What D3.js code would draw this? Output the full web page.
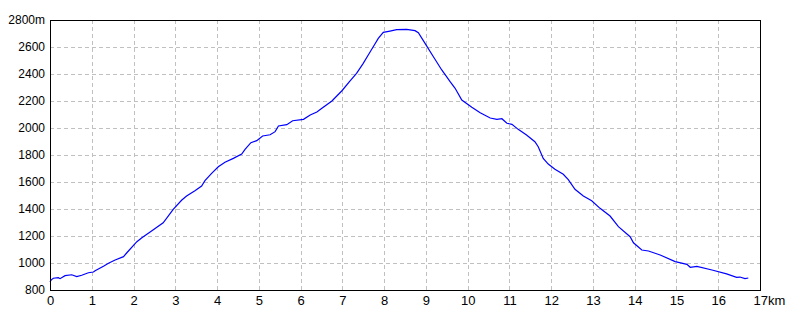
<!DOCTYPE html>
<html>
<head>
<meta charset="utf-8">
<script src="https://cdn.jsdelivr.net/npm/d3@7"></script>
<style>
  body { margin: 0; background: #fff; }
  svg { display: block; }
  .tick text { font-family: "Liberation Sans", Arial, sans-serif; fill: #000; }
</style>
</head>
<body>
<div id="chart"></div>
<script>
// distance along the route (km) and elevation (m)
var distKm = [
    0, 0.03, 0.08, 0.2, 0.24, 0.36, 0.52, 0.64, 0.76, 0.92,
    1.04, 1.08, 1.28, 1.4, 1.56, 1.76, 1.84, 2.08, 2.2, 2.44,
    2.71, 2.95, 3.15, 3.27, 3.47, 3.63, 3.71, 3.87, 4.03, 4.19,
    4.39, 4.59, 4.67, 4.81, 4.95, 5.09, 5.27, 5.39, 5.47, 5.67,
    5.81, 6.07, 6.23, 6.39, 6.51, 6.75, 6.99, 7.18, 7.34, 7.5,
    7.62, 7.74, 7.86, 7.98, 8.14, 8.3, 8.54, 8.74, 8.82, 8.98,
    9.18, 9.38, 9.58, 9.7, 9.86, 10.1, 10.3, 10.54, 10.7, 10.82,
    10.94, 11.06, 11.21, 11.41, 11.61, 11.69, 11.81, 11.93, 12.09, 12.29,
    12.41, 12.57, 12.77, 12.97, 13.17, 13.41, 13.61, 13.89, 13.97, 14.17,
    14.33, 14.61, 14.97, 15.25, 15.33, 15.49, 15.85, 16.2, 16.44, 16.52,
    16.64, 16.72
];
var elevM = [
    860, 875, 887, 891, 884, 906, 913, 899, 909, 928,
    933, 943, 976, 998, 1022, 1047, 1076, 1158, 1187, 1239,
    1298, 1398, 1465, 1496, 1536, 1570, 1610, 1664, 1713, 1746,
    1775, 1807, 1842, 1891, 1906, 1941, 1950, 1973, 2015, 2025,
    2054, 2064, 2096, 2118, 2146, 2200, 2276, 2348, 2405, 2479,
    2541, 2602, 2664, 2709, 2718, 2728, 2731, 2721, 2706, 2627,
    2528, 2430, 2343, 2294, 2207, 2153, 2113, 2074, 2064, 2069,
    2035, 2027, 1990, 1948, 1898, 1861, 1775, 1733, 1694, 1657,
    1618, 1546, 1496, 1461, 1405, 1348, 1269, 1195, 1150, 1096,
    1089, 1059, 1010, 990, 968, 975, 948, 919, 894, 896,
    884, 889
];
var xTicks = [0, 1, 2, 3, 4, 5, 6, 7, 8, 9, 10, 11, 12, 13, 14, 15, 16, 17];
var yTicks = [800, 1000, 1200, 1400, 1600, 1800, 2000, 2200, 2400, 2600, 2800];

var width = 800, height = 320;
var margin = {top: 20, right: 40, bottom: 30, left: 50};
var plotW = width - margin.left - margin.right;   // 710
var plotH = height - margin.top - margin.bottom;  // 270

var svg = d3.select('#chart').append('svg')
    .attr('width', width)
    .attr('height', height);

var g = svg.append('g')
    .attr('transform', 'translate(' + margin.left + ',' + margin.top + ')');

var xs = d3.scaleLinear().domain([0, 17]).range([0, plotW]);
var ys = d3.scaleLinear().domain([800, 2800]).range([plotH, 0]);

// dashed grid
g.append('g').selectAll('line')
    .data(xTicks.slice(1, -1))
    .enter().append('line')
    .attr('x1', function (d) { return Math.round(xs(d)) + 0.5; })
    .attr('x2', function (d) { return Math.round(xs(d)) + 0.5; })
    .attr('y1', 0)
    .attr('y2', plotH)
    .attr('stroke', '#c0c0c0')
    .attr('stroke-dasharray', '4,3')
    .attr('shape-rendering', 'crispEdges');

g.append('g').selectAll('line')
    .data(yTicks.slice(1, -1))
    .enter().append('line')
    .attr('y1', function (d) { return Math.round(ys(d)) + 0.5; })
    .attr('y2', function (d) { return Math.round(ys(d)) + 0.5; })
    .attr('x1', 0)
    .attr('x2', plotW)
    .attr('stroke', '#c0c0c0')
    .attr('stroke-dasharray', '4,3')
    .attr('shape-rendering', 'crispEdges');

// elevation line
var line = d3.line()
    .x(function (d, i) { return xs(distKm[i]); })
    .y(function (d) { return ys(d); });

g.append('path')
    .datum(elevM)
    .attr('d', line)
    .attr('fill', 'none')
    .attr('stroke', '#0000ff')
    .attr('stroke-width', 1.2);

// frame
g.append('rect')
    .attr('x', 0.5)
    .attr('y', 0.5)
    .attr('width', plotW)
    .attr('height', plotH)
    .attr('fill', 'none')
    .attr('stroke', '#000')
    .attr('stroke-width', 1)
    .attr('shape-rendering', 'crispEdges');

// axes (labels only)
var xAxis = d3.axisBottom(xs)
    .tickValues(xTicks)
    .tickSize(0)
    .tickPadding(6)
    .tickFormat(function (d) { return d === 17 ? '17km' : d; });

var xg = g.append('g')
    .attr('transform', 'translate(0,' + plotH + ')')
    .call(xAxis);
xg.select('.domain').remove();
xg.selectAll('text').attr('font-size', 13);
xg.selectAll('.tick').filter(function (d) { return d === 17; })
    .select('text')
    .attr('text-anchor', 'start')
    .attr('x', -7);

var yAxis = d3.axisLeft(ys)
    .tickValues(yTicks)
    .tickSize(0)
    .tickPadding(5)
    .tickFormat(function (d) { return d === 2800 ? '2800m' : d; });

var yg = g.append('g').call(yAxis);
yg.select('.domain').remove();
yg.selectAll('text').attr('font-size', 12);
</script>
</body>
</html>
